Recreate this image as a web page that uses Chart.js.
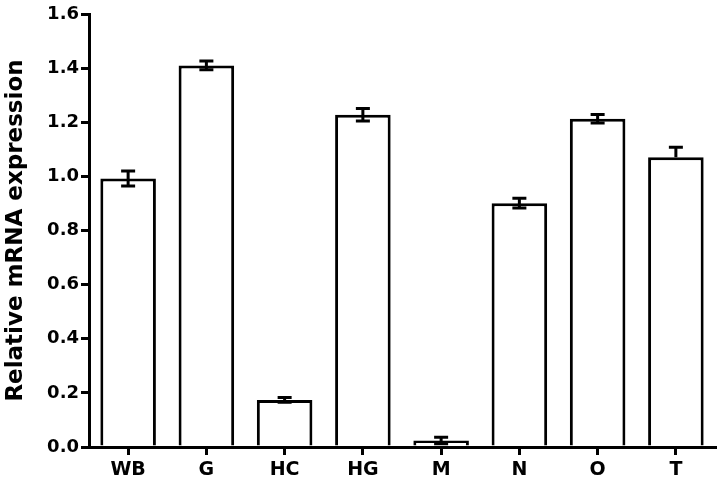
<!DOCTYPE html>
<html>
<head>
<meta charset="utf-8">
<script src="https://cdn.jsdelivr.net/npm/chart.js@4.4.1/dist/chart.umd.min.js"></script>
<style>
  html, body { margin: 0; padding: 0; background: #fff; }
  #wrap { width: 725px; height: 488px; }
</style>
</head>
<body>
<div id="wrap"><canvas id="c"></canvas></div>
<script>
// tissue expression, mean with error (SEM)
const tissues = ['WB', 'G', 'HC', 'HG', 'M', 'N', 'O', 'T'];
const expression = [0.992, 1.41, 0.174, 1.228, 0.024, 0.901, 1.213, 1.071];
const errUp = [0.028, 0.016, 0.009, 0.023, 0.012, 0.018, 0.016, 0.037];
const errDown = [0.028, 0.016, 0.009, 0.023, 0.012, 0.018, 0.016, 0];
const yTicks = [0, 0.2, 0.4, 0.6, 0.8, 1.0, 1.2, 1.4, 1.6];

const FONT = "'DejaVu Sans', sans-serif";

// error bars drawn on top of the bars
const errorBars = {
  id: 'errorBars',
  afterDatasetsDraw(chart) {
    const { ctx, scales: { x, y } } = chart;
    const cap = 7;
    ctx.save();
    ctx.strokeStyle = '#000';
    ctx.lineWidth = 3;
    expression.forEach((v, i) => {
      const cx = x.getPixelForValue(i);
      const top = y.getPixelForValue(v + errUp[i]);
      const bot = y.getPixelForValue(v - errDown[i]);
      ctx.beginPath();
      ctx.moveTo(cx, top);
      ctx.lineTo(cx, bot);
      ctx.moveTo(cx - cap, top);
      ctx.lineTo(cx + cap, top);
      if (errDown[i] > 0) {
        ctx.moveTo(cx - cap, bot);
        ctx.lineTo(cx + cap, bot);
      }
      ctx.stroke();
    });
    ctx.restore();
  }
};

new Chart(document.getElementById('c'), {
  type: 'bar',
  data: {
    labels: tissues,
    datasets: [{
      data: expression,
      backgroundColor: '#fff',
      borderColor: '#000',
      borderWidth: 3,
      borderSkipped: 'start',
      barPercentage: 0.71,
      categoryPercentage: 1,
    }],
  },
  options: {
    responsive: true,
    maintainAspectRatio: false,
    animation: false,
    layout: { padding: { top: 14, right: 10, left: 0, bottom: 0 } },
    plugins: { legend: { display: false }, tooltip: { enabled: false } },
    scales: {
      x: {
        offset: true,
        afterFit: (s) => { s.height = 41; },
        border: { color: '#000', width: 3 },
        grid: { offset: false, drawOnChartArea: false, tickLength: 8, color: '#000', lineWidth: 3 },
        ticks: { color: '#000', padding: 4, font: { family: FONT, size: 19, weight: 'bold' } },
      },
      y: {
        min: 0,
        max: 1.6,
        afterFit: (s) => { s.width = 89; },
        afterBuildTicks: (s) => { s.ticks = yTicks.map((v) => ({ value: v })); },
        border: { color: '#000', width: 3 },
        grid: { drawOnChartArea: false, tickLength: 8, color: '#000', lineWidth: 3 },
        ticks: {
          color: '#000',
          padding: 2,
          font: { family: FONT, size: 18, weight: 'bold' },
          callback: (v) => Number(v).toFixed(1),
        },
        title: {
          display: true,
          text: 'Relative mRNA expression',
          color: '#000',
          padding: { top: 2, bottom: 2 },
          font: { family: FONT, size: 23, weight: 'bold' },
        },
      },
    },
  },
  plugins: [errorBars],
});
</script>
</body>
</html>
